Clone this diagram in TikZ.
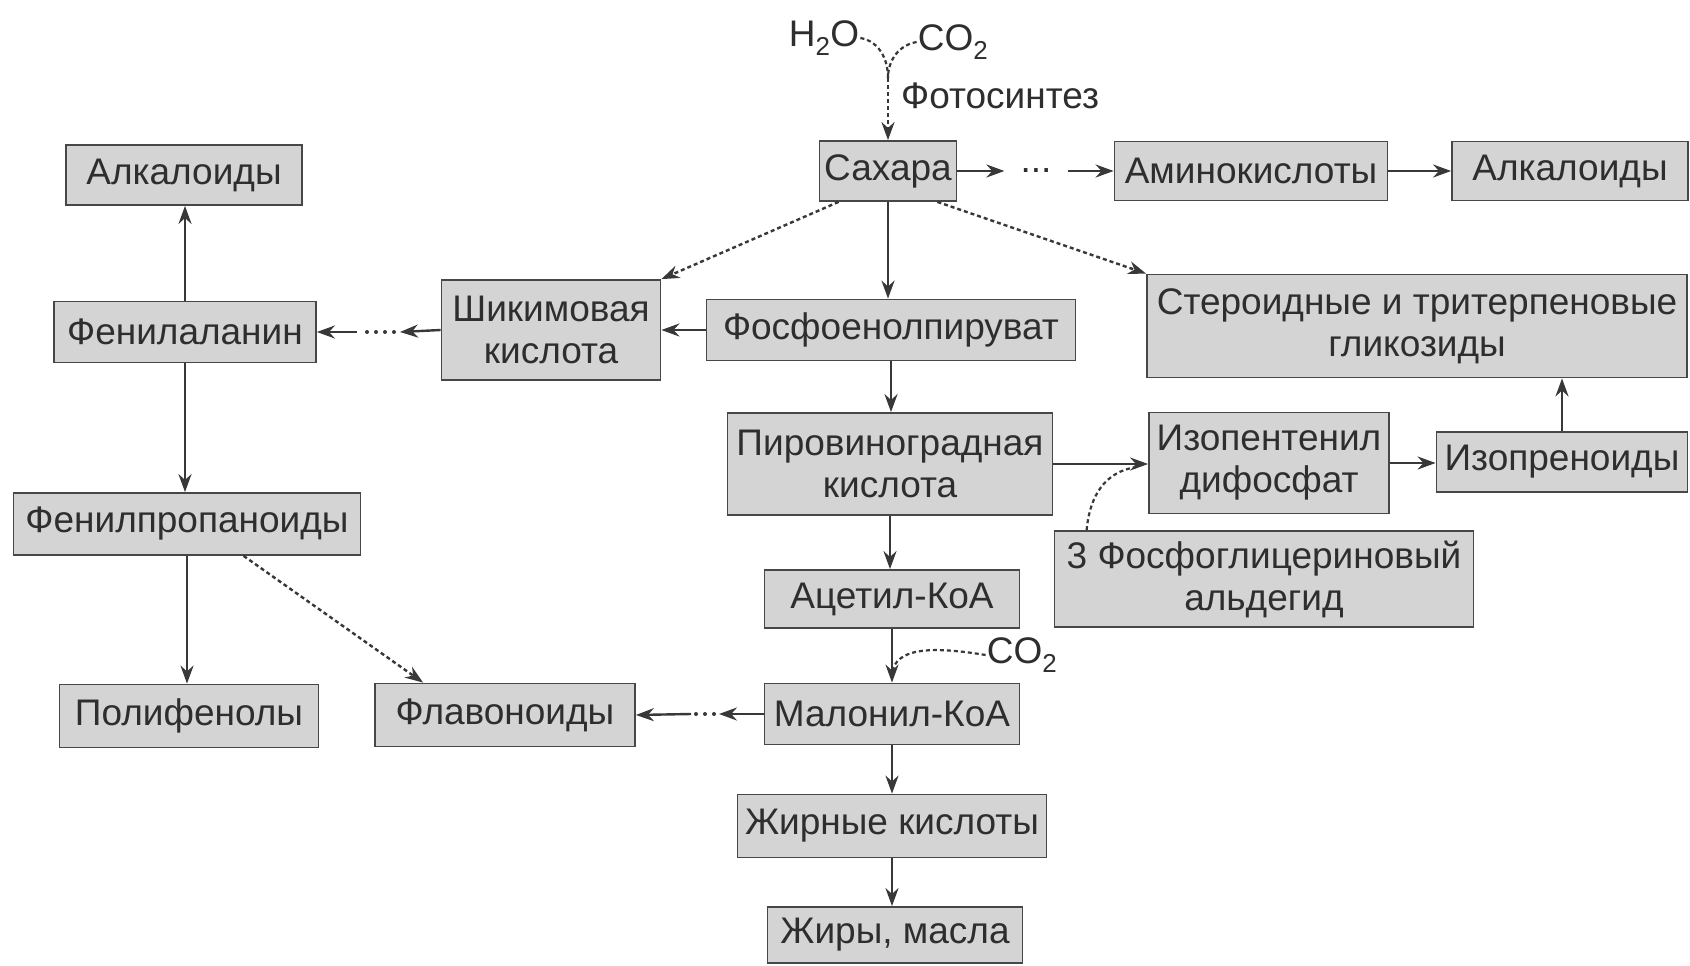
\documentclass[tikz,border=0pt]{standalone}
\usepackage{fontspec}
\setmainfont{Liberation Sans}
\usetikzlibrary{arrows.meta,calc}
\begin{document}
\begin{tikzpicture}[x=1pt,y=-1pt,
  box/.style={draw=black!72, line width=1.8pt, fill=black!17, text=black!82, inner sep=2pt, align=center, font=\fontsize{37}{42}\selectfont},
  lbl/.style={text=black!82, inner sep=1pt, font=\fontsize{37}{42}\selectfont},
  arr/.style={draw=black!78, line width=2.4pt, -{Stealth[length=18pt,width=13pt]}},
  darr/.style={arr, dash pattern=on 4pt off 3pt},
  dline/.style={draw=black!78, line width=2.2pt, dash pattern=on 4pt off 3pt},
  dotrow/.style={draw=black!78, line width=4pt, line cap=round, dash pattern=on 0pt off 9pt},
]
\fill[white] (0,0) rectangle (1690,966);
\useasboundingbox (0,0) rectangle (1690,966);

% nodes
\node[box, minimum width=137pt, minimum height=60pt] (sah) at (888,171) {Сахара};
\node[lbl, inner xsep=16pt] (dts) at (1036,171) {...};
\node[box, minimum width=273pt, minimum height=59pt] (amino) at (1251,171) {Аминокислоты};
\node[box, minimum width=236pt, minimum height=59pt] (alkR) at (1570,171) {Алкалоиды};
\node[box, minimum width=236pt, minimum height=60pt] (alkL) at (184,175) {Алкалоиды};
\node[box, minimum width=262pt, minimum height=61pt] (phe) at (185,332) {Фенилаланин};
\node[box, minimum width=219pt, minimum height=100pt] (shik) at (551,330) {Шикимовая\\кислота};
\node[box, minimum width=369pt, minimum height=61pt] (pep) at (891,330) {Фосфоенолпируват};
\node[box, minimum width=540pt, minimum height=103pt] (ster) at (1417,326) {Стероидные и тритерпеновые\\гликозиды};
\node[box, minimum width=325pt, minimum height=102pt] (pyr) at (890,464) {Пировиноградная\\кислота};
\node[box, minimum width=240pt, minimum height=101pt] (ipp) at (1269,463) {Изопентенил\\дифосфат};
\node[box, minimum width=251pt, minimum height=60pt] (iso) at (1562,462) {Изопреноиды};
\node[box, minimum width=347pt, minimum height=62pt] (php) at (187,524) {Фенилпропаноиды};
\node[box, minimum width=419pt, minimum height=96pt] (gap) at (1264,579) {3 Фосфоглицериновый\\альдегид};
\node[box, minimum width=255pt, minimum height=58pt] (acet) at (892,599) {Ацетил-КоА};
\node[box, minimum width=255pt, minimum height=61pt] (mal) at (892,714) {Малонил-КоА};
\node[box, minimum width=259pt, minimum height=63pt] (poly) at (189,716) {Полифенолы};
\node[box, minimum width=260pt, minimum height=63pt] (flav) at (505,715) {Флавоноиды};
\node[box, minimum width=309pt, minimum height=63pt] (fat) at (892,826) {Жирные кислоты};
\node[box, minimum width=255pt, minimum height=56pt] (oil) at (895,935) {Жиры, масла};

% top labels
\node[lbl] (h2o) at (824,38) {H\textsubscript{2}O};
\node[lbl] (co2) at (953,42) {CO\textsubscript{2}};
\node[lbl, anchor=west] (photo) at (900,96) {Фотосинтез};
\node[lbl] (co2b) at (1022,655) {CO\textsubscript{2}};

% coordinates
\coordinate (j) at (888,78);
\coordinate (s1) at (400,332);
\coordinate (s2) at (357,332);
\coordinate (m1) at (719,714);
\coordinate (m2) at (691,714);
\coordinate (cj) at (892,672);

% photosynthesis Y
\draw[dline] (h2o.east) to[out=-10,in=90] (j);
\draw[dline] (co2.west) to[out=190,in=90] (j);
\draw[darr] (j) -- (sah.north);

% top row
\draw[arr] (sah.east) -- (dts.west);
\draw[arr] (dts.east) -- (amino.west);
\draw[arr] (amino.east) -- (alkR.west);

% from sugars
\draw[darr] ($(sah.south west)+(20,0)$) -- (shik.north east);
\draw[darr] ($(sah.south east)+(-20,0)$) -- (ster.north west);
\draw[arr] (sah.south) -- (sah.south |- pep.north);

% shikimate branch
\draw[arr] (pep.west) -- (pep.west -| shik.east);
\draw[arr] (shik.west) -- (s1);
\draw[dotrow] ($(s1)+(-6,0)$) -- ($(s2)+(4,0)$);
\draw[arr] (s2) -- (phe.east);
\draw[arr] (phe.north) -- (phe.north |- alkL.south);
\draw[arr] (phe.south) -- (phe.south |- php.north);
\draw[arr] (php.south) -- (php.south |- poly.north);
\draw[darr] ($(php.south west)+(231,0)$) -- ($(flav.north west)+(49,0)$);

% central column
\draw[arr] (pep.south) -- (pep.south |- pyr.north);
\draw[arr] (pyr.south) -- (pyr.south |- acet.north);
\draw[arr] (acet.south) -- (acet.south |- mal.north);
\draw[dline] (co2b.west) .. controls (925,645) and (897,650) .. (cj);
\draw[arr] (mal.south) -- (mal.south |- fat.north);
\draw[arr] (fat.south) -- (fat.south |- oil.north);

% malonyl -> flavonoids
\draw[arr] (mal.west) -- (m1);
\draw[dotrow] ($(m1)+(-5,0)$) -- ($(m2)+(3,0)$);
\draw[arr] (m2) -- (flav.east);

% isoprenoid branch
\draw[arr] (pyr.east) -- (pyr.east -| ipp.west);
\draw[dline] ($(gap.north west)+(33,0)$) .. controls (1090,495) and (1105,472) .. ($(ipp.west)+(-12,4)$);
\draw[arr] (ipp.east) -- (ipp.east -| iso.west);
\draw[arr] (iso.north) -- (iso.north |- ster.south);
\end{tikzpicture}
\end{document}
